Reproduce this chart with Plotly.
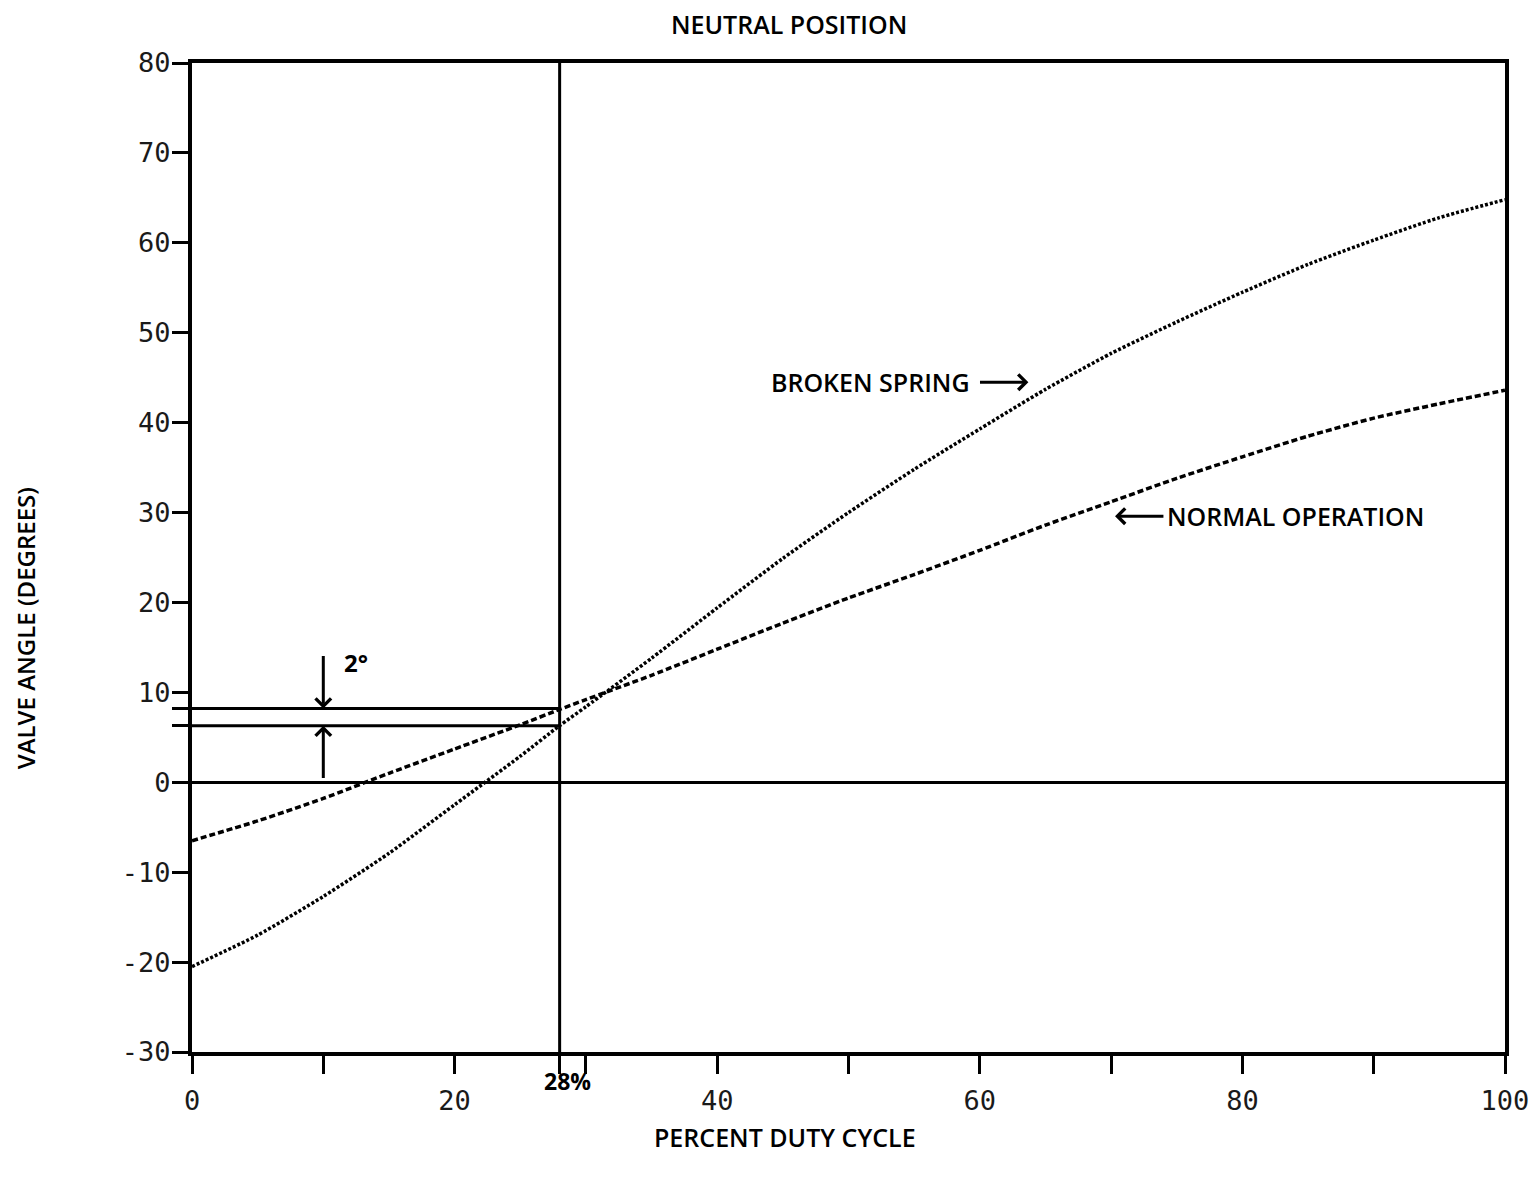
import plotly.graph_objects as go

# ---- data ----
duty = [0, 5, 10, 15, 20, 25, 28, 30, 35, 40, 45, 50, 55, 60, 65, 70, 75, 80, 85, 90, 95, 100]
normal_operation = [-6.5, -4.3, -1.8, 1.0, 3.7, 6.4, 8.1, 9.2, 11.9, 14.8, 17.7, 20.5, 23.1, 25.8, 28.6, 31.2, 33.8, 36.2, 38.5, 40.5, 42.1, 43.6]
broken_spring = [-20.5, -17.0, -12.7, -7.9, -2.5, 2.9, 6.3, 8.4, 13.8, 19.4, 24.9, 30.0, 34.8, 39.3, 43.7, 47.7, 51.2, 54.5, 57.6, 60.3, 62.8, 64.8]

neutral_duty = 28
upper_angle = 8.2
lower_angle = 6.3

x_tickvals = [0, 10, 20, 28, 30, 40, 50, 60, 70, 80, 90, 100]
x_ticktext = ["0", "", "20", "", "", "40", "", "60", "", "80", "", "100"]
y_tickvals = [80, 70, 60, 50, 40, 30, 20, 10, upper_angle, lower_angle, 0, -10, -20, -30]
y_ticktext = ["80", "70", "60", "50", "40", "30", "20", "10", "", "", "0", "-10", "-20", "-30"]

LABEL_FONT = dict(family="Open Sans", size=25, color="black", weight=600)
TICK_FONT = dict(family="DejaVu Sans Mono", size=27, color="#1a1a1a")

fig = go.Figure()
fig.add_trace(go.Scatter(x=duty, y=normal_operation, mode="lines", name="NORMAL OPERATION",
                         line=dict(color="black", width=3.5, dash="6px,3px", shape="spline", smoothing=0.6),
                         showlegend=False))
fig.add_trace(go.Scatter(x=duty, y=broken_spring, mode="lines", name="BROKEN SPRING",
                         line=dict(color="black", width=3.5, dash="3px,2px", shape="spline", smoothing=0.6),
                         showlegend=False))

# reference lines
fig.add_shape(type="line", x0=neutral_duty, x1=neutral_duty, y0=-30, y1=80, xref="x", yref="y",
              line=dict(color="black", width=3))
fig.add_shape(type="line", x0=0, x1=neutral_duty, y0=upper_angle, y1=upper_angle, xref="x", yref="y",
              line=dict(color="black", width=3))
fig.add_shape(type="line", x0=0, x1=neutral_duty, y0=lower_angle, y1=lower_angle, xref="x", yref="y",
              line=dict(color="black", width=3))

# 2 degree arrows
fig.add_annotation(x=10, y=upper_angle, ax=10, ay=14.2, xref="x", yref="y", axref="x", ayref="y",
                   text="", showarrow=True, arrowhead=4, arrowsize=1, arrowwidth=3, arrowcolor="black")
fig.add_annotation(x=10, y=lower_angle, ax=10, ay=0.3, xref="x", yref="y", axref="x", ayref="y",
                   text="", showarrow=True, arrowhead=4, arrowsize=1, arrowwidth=3, arrowcolor="black")
fig.add_annotation(x=12.5, y=13.3, xref="x", yref="y", text="2°", showarrow=False,
                   font=dict(family="Open Sans", size=24, color="black", weight=700))

# curve labels
fig.add_annotation(x=59.4, y=44.5, xref="x", yref="y", text="BROKEN SPRING", showarrow=False,
                   xanchor="right", yanchor="middle", font=LABEL_FONT)
fig.add_annotation(x=63.7, y=44.5, ax=59.9, ay=44.5, xref="x", yref="y", axref="x", ayref="y",
                   text="", showarrow=True, arrowhead=4, arrowsize=1, arrowwidth=3, arrowcolor="black")
fig.add_annotation(x=74.1, y=29.6, xref="x", yref="y", text="NORMAL OPERATION", showarrow=False,
                   xanchor="left", yanchor="middle", font=LABEL_FONT)
fig.add_annotation(x=70.3, y=29.6, ax=74.1, ay=29.6, xref="x", yref="y", axref="x", ayref="y",
                   text="", showarrow=True, arrowhead=4, arrowsize=1, arrowwidth=3, arrowcolor="black")

# titles
fig.add_annotation(x=45.5, y=1.0394, xref="x", yref="paper", text="NEUTRAL POSITION", showarrow=False,
                   yanchor="middle", font=LABEL_FONT)
fig.add_annotation(x=45.2, y=-0.086, xref="x", yref="paper", text="PERCENT DUTY CYCLE", showarrow=False,
                   yanchor="middle", font=LABEL_FONT)
fig.add_annotation(x=-0.127, y=0.4287, xref="paper", yref="paper", text="VALVE ANGLE (DEGREES)",
                   showarrow=False, textangle=-90, xanchor="center", yanchor="middle",
                   font=dict(family="Open Sans", size=24, color="black", weight=600))
fig.add_annotation(x=28.6, y=-0.0295, xref="x", yref="paper", text="28%", showarrow=False,
                   yanchor="middle", font=dict(family="Open Sans", size=23, color="black", weight=700))

fig.update_xaxes(range=[0, 100], showline=True, linewidth=4, linecolor="black", mirror=True,
                 showgrid=False, zeroline=False, ticks="outside", ticklen=18, tickwidth=2.5,
                 tickcolor="black", tickvals=x_tickvals, ticktext=x_ticktext, tickfont=TICK_FONT,
                 ticklabelstandoff=4)
fig.update_yaxes(range=[-30, 80], showline=True, linewidth=4, linecolor="black", mirror=True,
                 showgrid=False, zeroline=True, zerolinewidth=3, zerolinecolor="black",
                 ticks="outside", ticklen=16, tickwidth=2.5, tickcolor="black",
                 tickvals=y_tickvals, ticktext=y_ticktext, tickfont=TICK_FONT,
                 ticklabelstandoff=-4)

fig.update_layout(width=1537, height=1177, margin=dict(l=184, r=40, t=55, b=133),
                  plot_bgcolor="white", paper_bgcolor="white", showlegend=False)

fig.write_html("out.html")
